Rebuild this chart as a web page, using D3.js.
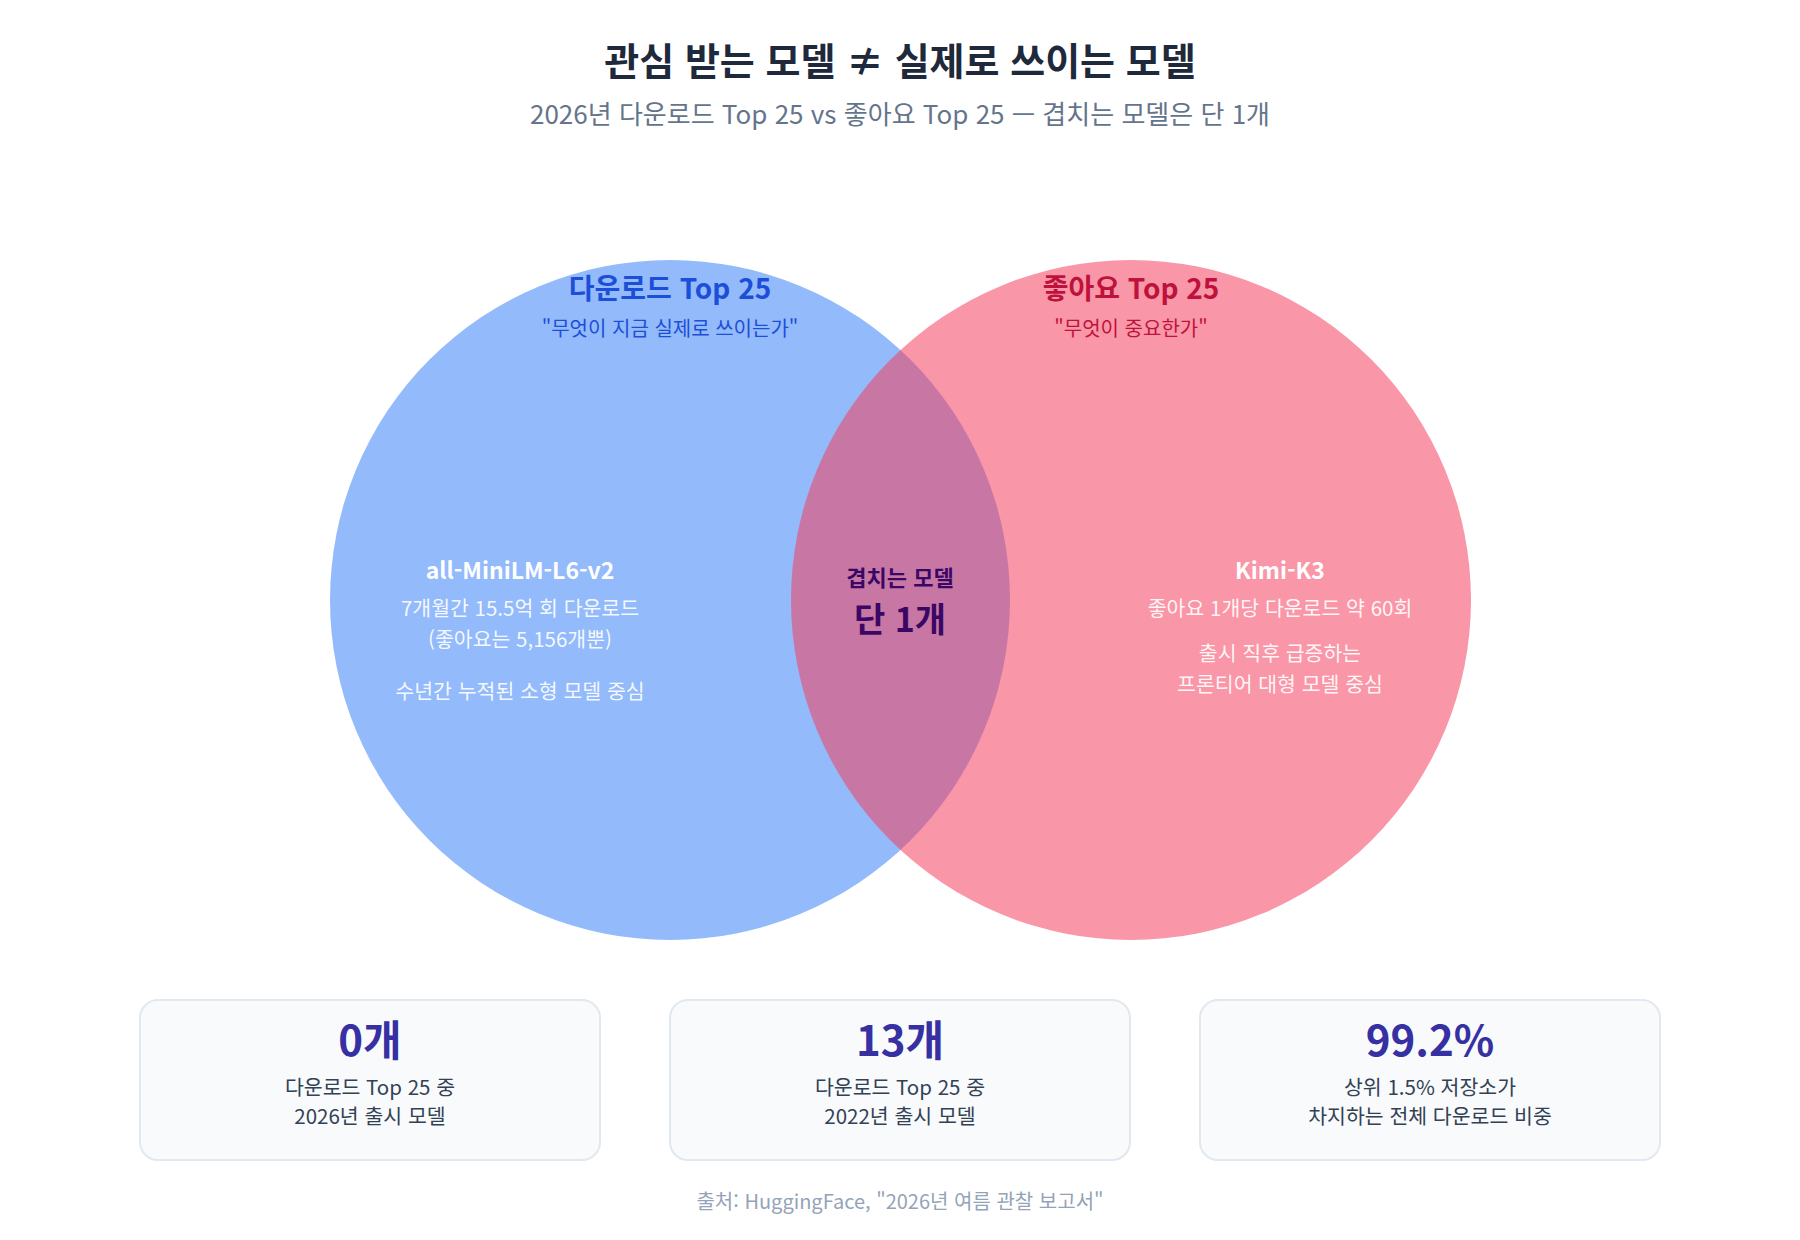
<!DOCTYPE html>
<html lang="ko">
<head>
<meta charset="utf-8">
<script src="https://cdn.jsdelivr.net/npm/d3@7/dist/d3.min.js"></script>
<style>
  html, body { margin: 0; padding: 0; background: #fff; }
  svg { display: block; font-family: "Noto Sans CJK KR", "Noto Sans", sans-serif; }
</style>
</head>
<body>
<div id="chart"></div>
<script>
// chart text + values
var title = "관심 받는 모델 ≠ 실제로 쓰이는 모델";
var subtitle = "2026년 다운로드 Top 25 vs 좋아요 Top 25 — 겹치는 모델은 단 1개";
var setNames = ["다운로드 Top 25", "좋아요 Top 25"];
var setTaglines = ["\"무엇이 지금 실제로 쓰이는가\"", "\"무엇이 중요한가\""];
var setSizes = [25, 25];
var overlapCount = 1;
var overlapLabels = ["겹치는 모델", "단 1개"];
var leftModel = "all-MiniLM-L6-v2";
var leftNotes = [["7개월간 15.5억 회 다운로드", "(좋아요는 5,156개뿐)"], ["수년간 누적된 소형 모델 중심"]];
var rightModel = "Kimi-K3";
var rightNotes = [["좋아요 1개당 다운로드 약 60회"], ["출시 직후 급증하는", "프론티어 대형 모델 중심"]];
var statValues = ["0개", "13개", "99.2%"];
var statLines = [
  ["다운로드 Top 25 중", "2026년 출시 모델"],
  ["다운로드 Top 25 중", "2022년 출시 모델"],
  ["상위 1.5% 저장소가", "차지하는 전체 다운로드 비중"]
];
var source = "출처: HuggingFace, \"2026년 여름 관찰 보고서\"";

var width = 1800, height = 1240;
var svg = d3.select("#chart").append("svg")
  .attr("width", width)
  .attr("height", height);

// titles
svg.append("text")
  .attr("x", width / 2).attr("y", 75)
  .attr("text-anchor", "middle")
  .style("font-size", "38px").style("font-weight", 700)
  .style("fill", "#1e293b")
  .text(title);

svg.append("text")
  .attr("x", width / 2).attr("y", 124)
  .attr("text-anchor", "middle")
  .style("font-size", "26px")
  .style("fill", "#64748b")
  .text(subtitle);

// venn geometry
var r = d3.scaleSqrt().domain([0, 25]).range([0, 340]);
var cy = 600;
var x = d3.scalePoint().domain([0, 1]).range([670, 1131]);

var fills = ["#3b82f6", "#f43f5e"];
var dark = ["#1d4ed8", "#be123c"];

svg.append("g").selectAll("circle")
  .data(setSizes)
  .enter().append("circle")
  .attr("cx", (d, i) => x(i))
  .attr("cy", cy)
  .attr("r", d => r(d))
  .style("fill", (d, i) => fills[i])
  .style("fill-opacity", 0.55);

// set headers
setNames.forEach(function(name, i) {
  svg.append("text")
    .attr("x", x(i)).attr("y", 299)
    .attr("text-anchor", "middle")
    .style("font-size", "28px").style("font-weight", 700)
    .style("fill", dark[i])
    .text(name);
  svg.append("text")
    .attr("x", x(i)).attr("y", 336)
    .attr("text-anchor", "middle")
    .style("font-size", "20px")
    .style("fill", dark[i])
    .text(setTaglines[i]);
});

// notes inside each set: model name, then blocks of lines
function notes(model, blocks, cx, blockGap) {
  var g = svg.append("g");
  g.append("text")
    .attr("x", cx).attr("y", 579)
    .attr("text-anchor", "middle")
    .style("font-size", "23px").style("font-weight", 700)
    .style("fill", "#fff")
    .text(model);
  var y = 616;
  blocks.forEach(function(lines, b) {
    if (b > 0) y += blockGap;
    lines.forEach(function(t, j) {
      if (j > 0) y += 31;
      g.append("text")
        .attr("x", cx).attr("y", y)
        .attr("text-anchor", "middle")
        .style("font-size", "20.5px")
        .style("fill", "#fff")
        .style("fill-opacity", 0.92)
        .text(t);
    });
  });
}
notes(leftModel, leftNotes, 520, 52);
notes(rightModel, rightNotes, 1280, 45);

// overlap label
svg.append("text")
  .attr("x", width / 2).attr("y", 586)
  .attr("text-anchor", "middle")
  .style("font-size", "22px").style("font-weight", 700)
  .style("fill", "#3b0764")
  .text(overlapLabels[0]);
svg.append("text")
  .attr("x", width / 2).attr("y", 632)
  .attr("text-anchor", "middle")
  .style("font-size", "34px").style("font-weight", 700)
  .style("fill", "#3b0764")
  .text(overlapLabels[1].replace("1", overlapCount));

// stat cards
var bx = d3.scaleBand().domain(d3.range(statValues.length))
  .range([140, 1660]).paddingInner(70 / 530);

var cards = svg.selectAll("g.card")
  .data(statValues)
  .enter().append("g")
  .attr("class", "card")
  .attr("transform", (d, i) => "translate(" + bx(i) + ",1000)");

cards.append("rect")
  .attr("width", bx.bandwidth())
  .attr("height", 160)
  .attr("rx", 18)
  .style("fill", "#f8fafc")
  .style("stroke", "#e2e8f0")
  .style("stroke-width", 2);

cards.append("text")
  .attr("x", bx.bandwidth() / 2).attr("y", 56)
  .attr("text-anchor", "middle")
  .style("font-size", "42px").style("font-weight", 700)
  .style("fill", "#3730a3")
  .text(d => d);

cards.each(function(d, i) {
  d3.select(this).selectAll("text.lbl")
    .data(statLines[i])
    .enter().append("text")
    .attr("class", "lbl")
    .attr("x", bx.bandwidth() / 2)
    .attr("y", (t, j) => 95 + j * 29)
    .attr("text-anchor", "middle")
    .style("font-size", "20.5px")
    .style("fill", "#334155")
    .text(t => t);
});

svg.append("text")
  .attr("x", width / 2).attr("y", 1209)
  .attr("text-anchor", "middle")
  .style("font-size", "20px")
  .style("fill", "#94a3b8")
  .text(source);
</script>
</body>
</html>
